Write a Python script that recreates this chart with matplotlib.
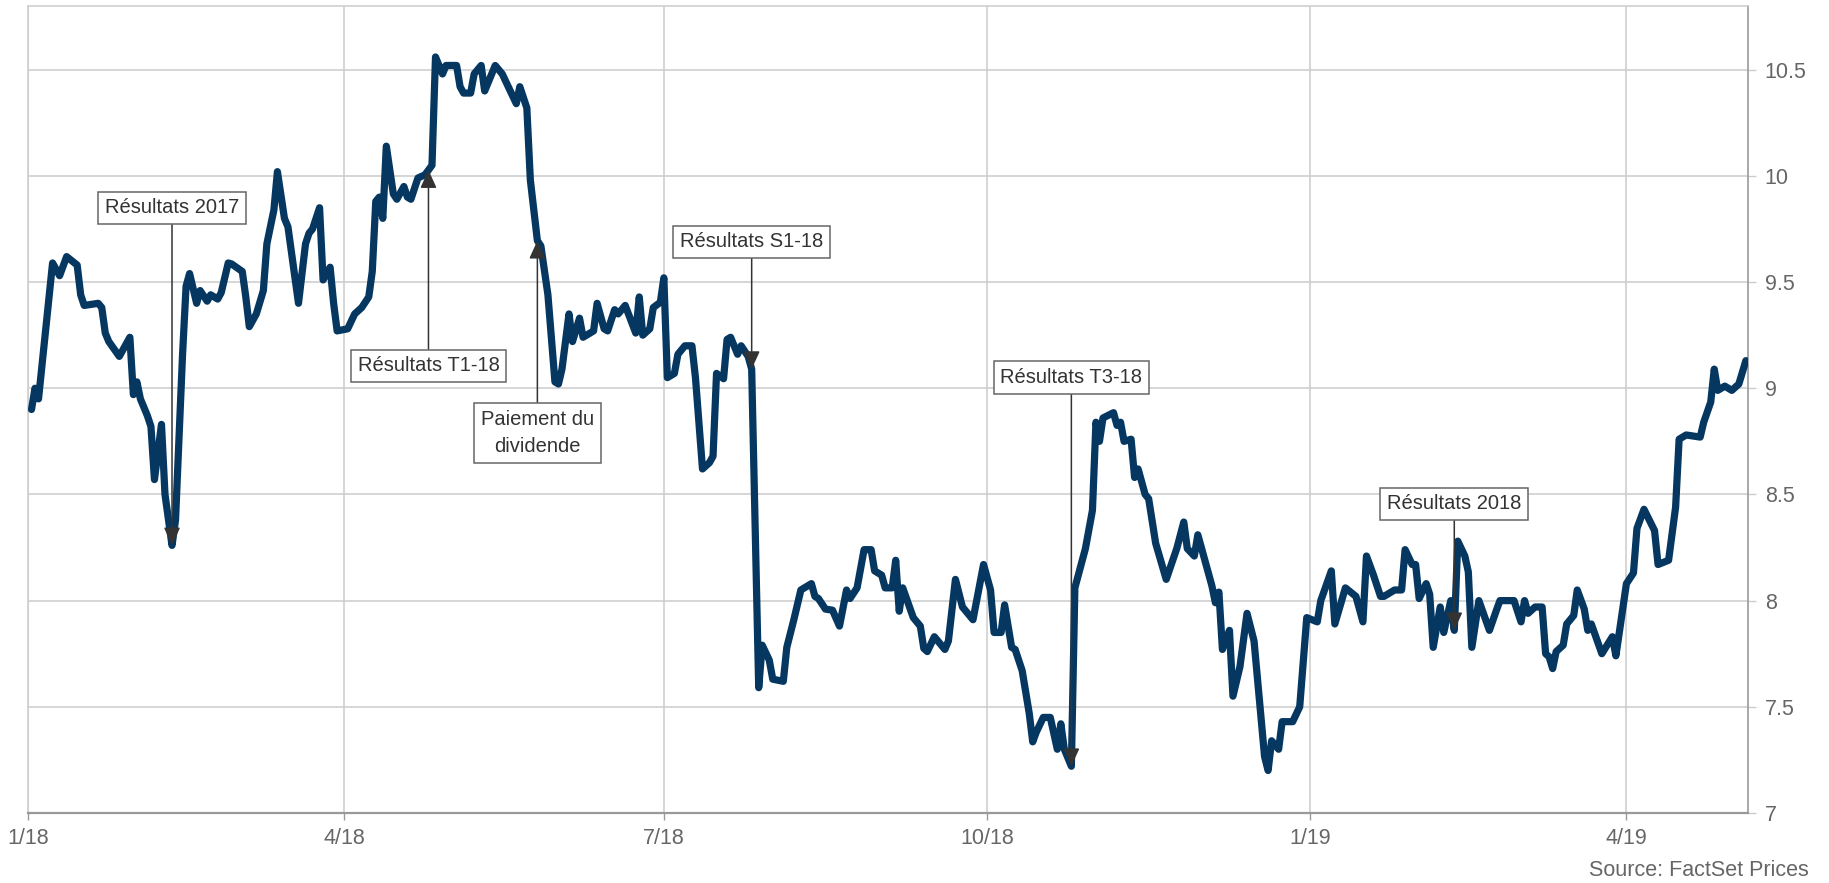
import numpy as np
import pandas as pd
import matplotlib
matplotlib.use('Agg')
import matplotlib.pyplot as plt
import matplotlib.dates as mdates

plt.rcParams['font.family'] = ['Liberation Sans', 'DejaVu Sans']

# jours depuis le 1/1/2018 et cours
jours = [1, 2, 3, 7, 9, 11, 14, 15, 16, 20, 21, 22, 23, 26, 29, 30, 31, 32, 34, 35,
         36, 38, 39, 41, 42, 44, 45, 46, 48, 49, 51, 52, 54, 55, 57, 58, 61, 62, 63, 65,
         67, 68, 70, 71, 73, 74, 77, 79, 80, 81, 83, 84, 86, 87, 88, 91, 93, 95, 97, 98,
         99, 100, 101, 102, 104, 105, 107, 108, 109, 111, 113, 115, 116, 118, 119, 122, 123, 124, 126, 127,
         129, 130, 133, 135, 139, 140, 142, 143, 145, 146, 148, 150, 151, 152, 154, 155, 157, 158, 161, 162,
         164, 165, 167, 168, 170, 173, 174, 175, 177, 178, 180, 181, 182, 184, 185, 187, 189, 190, 192, 194,
         195, 196, 198, 199, 200, 202, 203, 205, 206, 208, 209, 211, 212, 215, 216, 218, 220, 221, 223, 224,
         225, 227, 229, 231, 233, 234, 236, 238, 240, 241, 243, 244, 246, 247, 248, 249, 252, 254, 255, 256,
         258, 261, 262, 264, 266, 269, 272, 274, 275, 277, 278, 280, 281, 283, 285, 286, 287, 289, 291, 293,
         294, 295, 297, 298, 301, 303, 304, 305, 306, 309, 310, 311, 312, 314, 315, 316, 318, 319, 321, 324,
         327, 329, 330, 332, 333, 335, 337, 338, 339, 340, 342, 343, 345, 347, 349, 352, 353, 354, 356, 357,
         360, 362, 364, 367, 368, 371, 372, 375, 378, 380, 381, 383, 385, 386, 389, 391, 392, 394, 395, 396,
         398, 399, 400, 402, 403, 405, 406, 407, 409, 410, 411, 412, 413, 416, 418, 419, 423, 425, 426, 427,
         429, 431, 432, 433, 434, 435, 437, 438, 440, 441, 443, 444, 445, 448, 451, 452, 455, 457, 458, 460,
         463, 464, 467, 469, 470, 472, 476, 477, 479, 480, 481, 483, 485, 487, 489]
cours = [8.90, 9.00, 8.95, 9.59, 9.53, 9.62, 9.58, 9.44, 9.39, 9.40, 9.38, 9.26, 9.22, 9.15, 9.24, 8.97, 9.03, 8.95, 8.87, 8.82,
         8.57, 8.83, 8.50, 8.26, 8.38, 9.16, 9.48, 9.54, 9.40, 9.46, 9.41, 9.44, 9.42, 9.45, 9.59, 9.585, 9.55, 9.43, 9.29, 9.35,
         9.46, 9.68, 9.84, 10.02, 9.80, 9.76, 9.40, 9.68, 9.73, 9.75, 9.85, 9.51, 9.57, 9.40, 9.27, 9.28, 9.35, 9.38, 9.43, 9.55,
         9.88, 9.90, 9.80, 10.14, 9.915, 9.89, 9.95, 9.90, 9.89, 9.99, 10.005, 10.05, 10.56, 10.48, 10.52, 10.52, 10.42, 10.39, 10.39, 10.48,
         10.52, 10.40, 10.52, 10.48, 10.34, 10.42, 10.32, 9.98, 9.695, 9.67, 9.44, 9.03, 9.02, 9.09, 9.35, 9.22, 9.33, 9.24, 9.27, 9.40,
         9.28, 9.27, 9.37, 9.35, 9.39, 9.26, 9.43, 9.25, 9.28, 9.38, 9.405, 9.52, 9.05, 9.07, 9.16, 9.20, 9.20, 9.05, 8.62, 8.65,
         8.68, 9.07, 9.045, 9.23, 9.24, 9.16, 9.20, 9.15, 9.09, 7.59, 7.79, 7.72, 7.63, 7.62, 7.78, 7.91, 8.05, 8.06, 8.08, 8.02,
         8.01, 7.96, 7.955, 7.88, 8.05, 8.01, 8.06, 8.24, 8.24, 8.14, 8.12, 8.06, 8.06, 8.19, 7.95, 8.06, 7.92, 7.88, 7.775, 7.76,
         7.83, 7.77, 7.81, 8.10, 7.97, 7.91, 8.17, 8.05, 7.85, 7.85, 7.98, 7.78, 7.77, 7.67, 7.47, 7.335, 7.38, 7.45, 7.45, 7.30,
         7.42, 7.30, 7.22, 8.06, 8.245, 8.425, 8.84, 8.75, 8.86, 8.885, 8.825, 8.84, 8.75, 8.76, 8.58, 8.62, 8.50, 8.48, 8.27, 8.10,
         8.245, 8.37, 8.245, 8.21, 8.31, 8.19, 8.07, 7.99, 8.04, 7.77, 7.86, 7.55, 7.69, 7.94, 7.81, 7.265, 7.20, 7.34, 7.30, 7.43,
         7.43, 7.50, 7.92, 7.90, 8.00, 8.14, 7.89, 8.06, 8.02, 7.90, 8.21, 8.12, 8.02, 8.02, 8.05, 8.05, 8.24, 8.17, 8.17, 8.01,
         8.08, 8.03, 7.78, 7.97, 7.85, 8.00, 7.86, 8.28, 8.21, 8.135, 7.78, 7.89, 8.00, 7.86, 7.955, 8.00, 8.00, 7.90, 8.00, 7.94,
         7.97, 7.97, 7.75, 7.735, 7.68, 7.76, 7.79, 7.89, 7.93, 8.05, 7.96, 7.86, 7.89, 7.75, 7.83, 7.74, 8.08, 8.13, 8.34, 8.43,
         8.33, 8.17, 8.19, 8.44, 8.76, 8.78, 8.77, 8.84, 8.935, 9.09, 8.99, 9.01, 8.99, 9.02, 9.13]

# evenements annotes
evenements = ['Résultats 2017', 'Résultats T1-18', 'Paiement du\ndividende',
              'Résultats S1-18', 'Résultats T3-18', 'Résultats 2018']
jours_evenements = [41, 114, 145, 206, 297, 406]

mois_ticks = ['2018-01-01', '2018-04-01', '2018-07-01', '2018-10-01', '2019-01-01', '2019-04-01']
labels_ticks = ['1/18', '4/18', '7/18', '10/18', '1/19', '4/19']
niveaux = [7, 7.5, 8, 8.5, 9, 9.5, 10, 10.5]

debut = mdates.date2num(pd.Timestamp('2018-01-01'))
x = debut + np.array(jours)

fig = plt.figure(figsize=(18.29, 8.83), dpi=100)
ax = fig.add_axes([0.0153, 0.0793, 0.9404, 0.9139])
ax.plot(x, cours, color='#053761', lw=5.2, solid_capstyle='round', zorder=3)

# hauteur du centre de chaque boite
boites = [9.85, 9.105, 8.79, 9.69, 9.05, 8.455]
for txt, j, yb in zip(evenements, jours_evenements, boites):
    xe = debut + j
    ye = np.interp(j, jours, cours)
    ax.annotate(txt, xy=(xe, ye), xytext=(xe, yb), ha='center', va='center',
                fontsize=14.5, color='#333333', linespacing=1.55, zorder=5,
                bbox=dict(boxstyle='square,pad=0.33', fc='white', ec='#666666', lw=1.1),
                arrowprops=dict(arrowstyle='-|>,head_length=0.55,head_width=0.25',
                                color='#333333', lw=1.1, shrinkA=0, shrinkB=0,
                                mutation_scale=20))

ax.set_xlim(debut, debut + 489.6)
ax.set_ylim(7, 10.8)
ax.set_xticks(mdates.date2num(pd.to_datetime(mois_ticks)))
ax.set_xticklabels(labels_ticks)
ax.yaxis.tick_right()
ax.set_yticks(niveaux)
ax.set_yticklabels(['{:g}'.format(v) for v in niveaux])

ax.tick_params(axis='x', length=5, width=1, color='#999999', labelsize=15.5,
               labelcolor='#666666', pad=6)
ax.tick_params(axis='y', length=6, width=1, color='#cccccc', labelsize=15.5,
               labelcolor='#666666', pad=6)
ax.grid(True, color='#cccccc', lw=1.1)
ax.set_axisbelow(True)

ax.spines['bottom'].set_color('#999999')
ax.spines['bottom'].set_linewidth(1.6)
ax.spines['right'].set_color('#999999')
ax.spines['right'].set_linewidth(1.2)
for s in ['left', 'top']:
    ax.spines[s].set_color('#cccccc')
    ax.spines[s].set_linewidth(1.1)

fig.text(0.989, 0.0147, 'Source: FactSet Prices', ha='right', va='center',
         fontsize=15.5, color='#666666')

fig.savefig('out.png', dpi=100)
